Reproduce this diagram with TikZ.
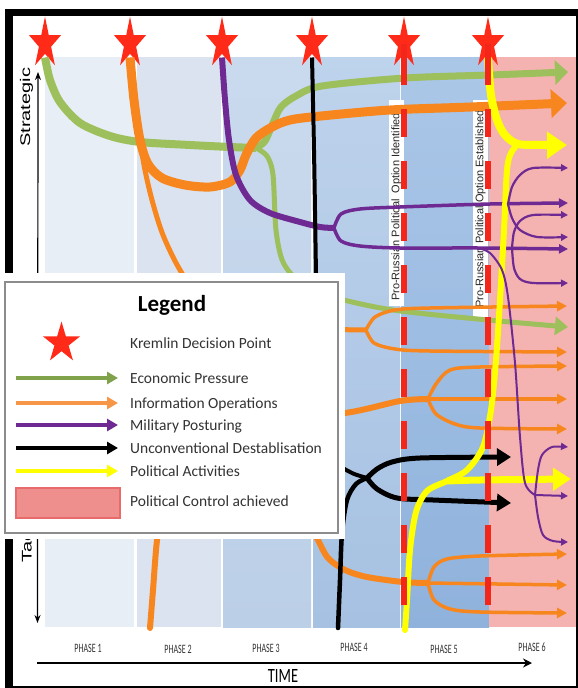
\documentclass[tikz,border=0pt]{standalone}
\usepackage{graphicx}
\usepackage{fontspec}
\setmainfont{Carlito}
\newfontfamily\arialf{Liberation Sans}
\usetikzlibrary{arrows.meta,shapes.geometric}
\definecolor{starred}{HTML}{FF2A17}
\definecolor{dashred}{HTML}{F2261B}
\definecolor{egreen}{HTML}{9DBF5C}
\definecolor{lgreen}{HTML}{7FA24A}
\definecolor{iorange}{HTML}{F7861E}
\definecolor{lorange}{HTML}{F79646}
\definecolor{mpurple}{HTML}{6E2A92}
\definecolor{pyellow}{HTML}{FFFF00}
\definecolor{pinkzone}{HTML}{F4B3B0}
\definecolor{lpinkfill}{HTML}{EF8F8D}
\definecolor{lpinkdraw}{HTML}{E66B6A}
\definecolor{txtgray}{HTML}{333333}
\definecolor{phA}{HTML}{E8EEF6}
\definecolor{phB}{HTML}{DAE3EF}
\definecolor{phCt}{HTML}{CADAEE}
\definecolor{phCb}{HTML}{BBCFE7}
\definecolor{phDt}{HTML}{BED3EC}
\definecolor{phDb}{HTML}{A6C1E2}
\definecolor{phEt}{HTML}{ABC7E8}
\definecolor{phEb}{HTML}{8FB2DC}
\begin{document}
\begin{tikzpicture}[x=1pt,y=-1pt,
  kstar/.style={star, star points=5, star point ratio=2.618, fill=starred, draw=none, inner sep=0pt},
  ltext/.style={anchor=base west, inner sep=0pt, text=txtgray, font=\fontsize{15.5}{18}\selectfont},
  phlabel/.style={inner sep=0pt, text=txtgray, font=\fontsize{8}{9}\selectfont},
  vtext/.style={rotate=90, inner sep=0pt, text=black!85, font=\arialf\fontsize{11}{12}\selectfont},
  axtext/.style={rotate=90, anchor=west, inner sep=0pt, text=black, font=\arialf\fontsize{14}{16}\selectfont},
  branch/.style={line cap=butt, line join=round}
]
\useasboundingbox (0,0) rectangle (578,688);
\fill[white] (0,0) rectangle (578,688);
% frame
\fill[black] (5,9) rectangle (578,688);
\fill[white] (13,16) rectangle (576,686);
% phase bands
\fill[phA] (45,57) rectangle (134,627);
\fill[phB] (137,57) rectangle (221,627);
\shade[top color=phCt, bottom color=phCb] (223,57) rectangle (311,627);
\shade[top color=phDt, bottom color=phDb] (313,57) rectangle (400,627);
\shade[top color=phEt, bottom color=phEb] (401,57) rectangle (489,627);
\fill[pinkzone] (489,57) rectangle (576,627);
% option boxes
\fill[white] (389,100) rectangle (404,306);
\fill[white] (473,100) rectangle (488,318);
\node[vtext] (opt1) at (396.5,207) {Pro-Russian Political\ \ Option Identified};
\node[vtext] (opt2) at (480.5,209) {Pro-Russian Political Option Established};
% stars
\node[kstar, minimum size=33.6pt, yscale=1.6] (s1) at (45,43.5) {};
\node[kstar, minimum size=33.6pt, yscale=1.6] (s2) at (130,43.5) {};
\node[kstar, minimum size=33.6pt, yscale=1.6] (s3) at (222,43.5) {};
\node[kstar, minimum size=33.6pt, yscale=1.6] (s4) at (312,43.5) {};
\node[kstar, minimum size=33.6pt, yscale=1.6] (s5) at (404,43.5) {};
\node[kstar, minimum size=33.6pt, yscale=1.6] (s6) at (488,43.5) {};
% axes
\coordinate (axb) at (37.5,623);
\coordinate (axt) at (38,72);
\draw[line width=1.2pt, {Stealth[length=8pt,width=6pt]}-{Stealth[length=8pt,width=6pt]}] (axb) -- (axt);
\node[axtext] (strat) at (26.5,147) {\scalebox{1.43}[1]{Strategic}};
\node[axtext] (tact) at (26.5,563) {\scalebox{1.43}[1]{Tactical}};
\coordinate (tl) at (37,663);
\coordinate (tr) at (532,663);
\draw[line width=1.5pt, -{Stealth[length=9pt,width=9pt]}] (tl) -- (tr);
\node[inner sep=0pt, text=black, font=\fontsize{14.5}{16}\selectfont] (time) at (283,675.5) {\scalebox{1}[1.4]{TIME}};
\node[phlabel] (ph1) at (88,648) {\scalebox{1}[1.6]{PHASE 1}};
\node[phlabel] (ph2) at (178,649) {\scalebox{1}[1.6]{PHASE 2}};
\node[phlabel] (ph3) at (266,648) {\scalebox{1}[1.6]{PHASE 3}};
\node[phlabel] (ph4) at (354,647) {\scalebox{1}[1.6]{PHASE 4}};
\node[phlabel] (ph5) at (444,649) {\scalebox{1}[1.6]{PHASE 5}};
\node[phlabel] (ph6) at (532,647) {\scalebox{1}[1.6]{PHASE 6}};
% coordinates
\coordinate (g0) at ([yshift=-14pt]s1.center);
\coordinate (gj) at (256,148);
\coordinate (gu) at (568,72);
\coordinate (gl) at (568,327);
\coordinate (o0) at ([yshift=-14pt]s2.center);
\coordinate (oT) at (567,103);
\coordinate (ot0) at (138,125);
\coordinate (oA) at (366,330);
\coordinate (oA1) at (567,306);
\coordinate (oA2) at (567,352);
\coordinate (oB0) at (150,628);
\coordinate (oB) at (428,399);
\coordinate (oB1) at (567,366);
\coordinate (oB2) at (567,399);
\coordinate (oB3) at (567,429);
\coordinate (oC0) at (290,490);
\coordinate (oC) at (428,583);
\coordinate (oC1) at (567,554);
\coordinate (oC2) at (567,585);
\coordinate (oC3) at (567,613);
\coordinate (p0) at ([yshift=-14pt]s3.center);
\coordinate (pj) at (334,228);
\coordinate (pU) at (568,203);
\coordinate (pL) at (568,249);
\coordinate (t1) at (508,204);
\coordinate (t1a) at (568,168);
\coordinate (t1b) at (568,237);
\coordinate (t2) at (512,248);
\coordinate (t2a) at (568,215);
\coordinate (t2b) at (568,283);
\coordinate (tk0) at (478,248);
\coordinate (pk) at (535,495);
\coordinate (pk1) at (568,447);
\coordinate (pk2) at (568,496);
\coordinate (pk3) at (568,542);
\coordinate (b0) at ([yshift=-14pt]s4.center);
\coordinate (bb0) at (338,628);
\coordinate (bj) at (367,478);
\coordinate (bU) at (511,457);
\coordinate (bD) at (511,503);
\coordinate (y0) at ([yshift=-14pt]s6.center);
\coordinate (yj) at (518,144);
\coordinate (yT) at (567,145);
\coordinate (yS0) at (405,630);
\coordinate (yk) at (447,481);
\coordinate (yL) at (571,479);
% ---- green
\draw[egreen, line width=8pt, branch] plot[smooth] coordinates {(g0) (50,80) (60,102) (80,123) (110,136) (140,142) (190,145) (230,147) (gj)};
\draw[egreen, line width=7pt, branch, -{Triangle[length=13pt,width=24pt]}] plot[smooth] coordinates {(gj) (265,141) (273,123) (281,107) (296,96) (322,86) (405,78) (490,75) (gu)};
\draw[egreen, line width=5pt, branch, -{Triangle[length=13pt,width=18pt]}] plot[smooth] coordinates {(gj) (267,156) (273,175) (276,230) (283,262) (300,282) (333,297) (393,310) (488,320) (gl)};
% ---- orange
\draw[iorange, line width=5pt, branch] plot[smooth] coordinates {(ot0) (144,165) (152,200) (163,235) (180,270) (205,305) (250,325) (320,329) (oA)};
\draw[iorange, line width=3.5pt, branch, -{Triangle[length=10pt,width=10pt]}] plot[smooth] coordinates {(oA) (375,317) (395,310) (430,308) (oA1)};
\draw[iorange, line width=3.5pt, branch, -{Triangle[length=10pt,width=10pt]}] plot[smooth] coordinates {(oA) (374,343) (395,349) (430,351) (oA2)};
\draw[iorange, line width=6pt, line cap=round] plot[smooth] coordinates {(oB0) (153,590) (157,540) (165,480) (190,440) (260,420) (345,413) (400,401) (oB)};
\draw[iorange, line width=3.5pt, branch, -{Triangle[length=10pt,width=10pt]}] plot[smooth] coordinates {(oB) (436,384) (450,370) (480,367) (oB1)};
\draw[iorange, line width=3.5pt, branch, -{Triangle[length=10pt,width=10pt]}] (oB) -- (oB2);
\draw[iorange, line width=3.5pt, branch, -{Triangle[length=10pt,width=10pt]}] plot[smooth] coordinates {(oB) (436,414) (455,424) (480,428) (oB3)};
\draw[iorange, line width=6pt, branch] plot[smooth] coordinates {(oC0) (305,515) (318,540) (328,558) (345,570) (367,577) (403,582) (oC)};
\draw[iorange, line width=3.5pt, branch, -{Triangle[length=10pt,width=10pt]}] plot[smooth] coordinates {(oC) (434,567) (447,559) (480,556) (oC1)};
\draw[iorange, line width=3.5pt, branch, -{Triangle[length=10pt,width=10pt]}] (oC) -- (oC2);
\draw[iorange, line width=3.5pt, branch, -{Triangle[length=10pt,width=10pt]}] plot[smooth] coordinates {(oC) (434,600) (450,609) (480,612) (oC3)};
\draw[iorange, line width=9pt, branch, -{Triangle[length=16pt,width=28pt]}] plot[smooth] coordinates {(o0) (134,100) (140,140) (148,164) (162,178) (185,185) (210,187) (230,182) (240,170) (246,155) (256,138) (272,127) (290,120) (321,116) (390,110) (471,107) (oT)};
% ---- purple
\draw[mpurple, line width=6pt, branch] plot[smooth] coordinates {(p0) (225,100) (229,140) (236,175) (250,200) (270,213) (300,222) (320,227) (pj)};
\draw[mpurple, line width=3.5pt, branch, -{Triangle[length=9pt,width=9pt]}] plot[smooth] coordinates {(pj) (341,214) (360,209) (400,207) (490,204) (pU)};
\draw[mpurple, line width=3.5pt, branch, -{Triangle[length=9pt,width=9pt]}] plot[smooth] coordinates {(pj) (341,241) (360,246) (400,248) (478,248) (pL)};
% ---- black
\draw[black, line width=4pt, branch] plot[smooth] coordinates {(b0) (314,150) (316,275) (318,400) (322,440) (335,462) (352,473) (bj)};
\draw[black, line width=4.5pt, line cap=round] plot[smooth] coordinates {(bb0) (340,580) (342,533) (347,500) (356,484) (bj)};
\draw[black, line width=5pt, branch, -{Triangle[length=14pt,width=17pt]}] plot[smooth] coordinates {(bj) (377,469) (392,462) (420,458) (bU)};
\draw[black, line width=5pt, branch, -{Triangle[length=14pt,width=17pt]}] plot[smooth] coordinates {(bj) (377,489) (397,498) (433,500) (bD)};
% ---- yellow
\draw[pyellow, line width=6pt, line cap=round] plot[smooth] coordinates {(yS0) (407,600) (410,550) (416,512) (427,491) (yk) (467,470) (483,447) (491,410) (496,360) (500,300) (504,230) (507,170) (511,153) (yj)};
\draw[pyellow, line width=7pt, branch, -{Triangle[length=18pt,width=22pt]}] plot[smooth] coordinates {(yk) (480,480) (yL)};
\draw[pyellow, line width=8pt, branch, -{Triangle[length=20pt,width=26pt]}] plot[smooth] coordinates {(y0) (491,95) (497,120) (505,135) (yj) (545,145) (yT)};
% ---- purple trees in control zone
\draw[mpurple, line width=2.2pt, branch, -{Triangle[length=7pt,width=7pt]}] plot[smooth] coordinates {(t1) (512,187) (520,175) (533,168) (t1a)};
\draw[mpurple, line width=2.2pt, branch, -{Triangle[length=7pt,width=7pt]}] plot[smooth] coordinates {(t1) (512,218) (520,230) (537,237) (t1b)};
\draw[mpurple, line width=2.2pt, branch, -{Triangle[length=7pt,width=7pt]}] plot[smooth] coordinates {(t2) (514,232) (520,221) (533,215) (t2a)};
\draw[mpurple, line width=2.2pt, branch, -{Triangle[length=7pt,width=7pt]}] plot[smooth] coordinates {(t2) (514,268) (520,279) (533,283) (t2b)};
\draw[mpurple, line width=2pt, branch] plot[smooth] coordinates {(tk0) (490,253) (502,270) (508,297) (515,363) (520,437) (525,483) (pk)};
\draw[mpurple, line width=2pt, branch, -{Triangle[length=7pt,width=7pt]}] plot[smooth] coordinates {(pk) (538,470) (542,455) (552,447) (pk1)};
\draw[mpurple, line width=2pt, branch, -{Triangle[length=7pt,width=7pt]}] (pk) -- (pk2);
\draw[mpurple, line width=2pt, branch, -{Triangle[length=7pt,width=7pt]}] plot[smooth] coordinates {(pk) (538,517) (543,535) (553,541) (pk3)};
% ---- red dashed decision lines
\coordinate (d1a) at (404,85);
\coordinate (d1t) at (404,57);
\coordinate (d1b) at (404,628);
\coordinate (d2a) at (488,85);
\coordinate (d2t) at (488,57);
\coordinate (d2b) at (488,628);
\draw[dashred, line width=6pt] (s5.center) -- (d1a);
\draw[dashred, line width=6pt, dash pattern=on 28pt off 24pt] (d1t) -- (d1b);
\draw[dashred, line width=6pt] (s6.center) -- (d2a);
\draw[dashred, line width=6pt, dash pattern=on 28pt off 24pt] (d2t) -- (d2b);
% ---- legend
\fill[white] (0,273) rectangle (345,539);
\draw[black!45, line width=2.5pt] (5,282) rectangle (338,533);
\node[inner sep=0pt, text=black, font=\bfseries\fontsize{23}{26}\selectfont] (lgt) at (172,305) {Legend};
\node[kstar, minimum size=39pt, yscale=1.1] (ls) at (61.5,343) {};
\node[ltext] (lk) at (130,348) {Kremlin Decision Point};
\coordinate (la1) at (16,378); \coordinate (lb1) at (118,378);
\coordinate (la2) at (16,403); \coordinate (lb2) at (118,403);
\coordinate (la3) at (16,425); \coordinate (lb3) at (118,425);
\coordinate (la4) at (16,448); \coordinate (lb4) at (118,448);
\coordinate (la5) at (16,471); \coordinate (lb5) at (118,471);
\draw[lgreen, line width=4pt, -{Triangle[length=11pt,width=12pt]}] (la1) -- (lb1);
\draw[lorange, line width=4pt, -{Triangle[length=11pt,width=12pt]}] (la2) -- (lb2);
\draw[mpurple, line width=4pt, -{Triangle[length=11pt,width=12pt]}] (la3) -- (lb3);
\draw[black, line width=4pt, -{Triangle[length=11pt,width=12pt]}] (la4) -- (lb4);
\draw[pyellow, line width=4pt, -{Triangle[length=11pt,width=12pt]}] (la5) -- (lb5);
\draw[fill=lpinkfill, draw=lpinkdraw, line width=1.2pt] (16,488) rectangle (120,518);
\node[ltext] (l1) at (130,383) {Economic Pressure};
\node[ltext] (l2) at (130,408) {Information Operations};
\node[ltext] (l3) at (130,430) {Military Posturing};
\node[ltext] (l4) at (130,453) {Unconventional Destablisation};
\node[ltext] (l5) at (130,476) {Political Activities};
\node[ltext] (l6) at (130,506) {Political Control achieved};
\end{tikzpicture}
\end{document}
